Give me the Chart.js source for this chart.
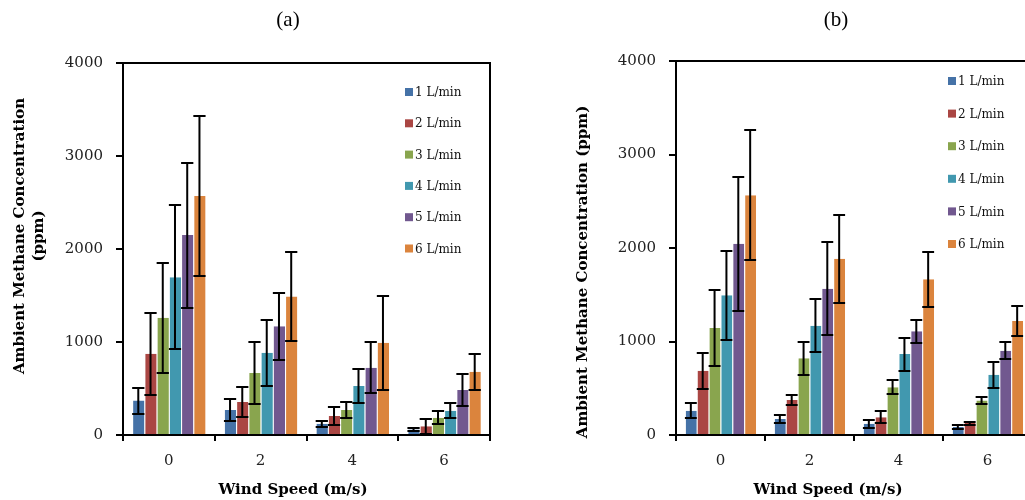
<!DOCTYPE html>
<html>
<head>
<meta charset="utf-8">
<title>Ambient methane concentration vs wind speed</title>
<script src="https://cdn.jsdelivr.net/npm/chart.js@4.4.1/dist/chart.umd.min.js"></script>
<style>
  html, body { margin: 0; padding: 0; background: #fff; width: 1025px; height: 500px; overflow: hidden; position: relative; }
  .panel { position: absolute; top: 0; height: 500px; }
  #wrapA { left: 0; width: 510px; }
  #wrapB { left: 520px; width: 540px; }
  .tag { position: absolute; top: 7px; font-family: "Liberation Serif", serif; font-size: 21px; color: #000; transform: translateX(-50%); z-index: 2; }
</style>
</head>
<body>
<div class="tag" style="left:288px">(a)</div>
<div class="tag" style="left:836px">(b)</div>
<div class="panel" id="wrapA"><canvas id="chartA" width="510" height="500"></canvas></div>
<div class="panel" id="wrapB"><canvas id="chartB" width="540" height="500"></canvas></div>

<script>
// Wind speeds (m/s) on the category axis
const windSpeeds = ['0', '2', '4', '6'];
// Leak flow rates, one series each
const flowRates = ['1 L/min', '2 L/min', '3 L/min', '4 L/min', '5 L/min', '6 L/min'];
const yTicks = [0, 1000, 2000, 3000, 4000];

// Panel (a): mean concentration (ppm) per flow rate, across wind speeds
const meansA = [
  [370, 270, 120, 60],
  [875, 356, 205, 95],
  [1260, 668, 270, 185],
  [1695, 884, 528, 260],
  [2150, 1170, 722, 485],
  [2570, 1488, 992, 680]
];
// Panel (a): error bar half-lengths (ppm)
const errorsA = [
  [140, 115, 35, 18],
  [440, 162, 97, 80],
  [590, 330, 87, 70],
  [775, 355, 183, 80],
  [780, 360, 275, 172],
  [865, 475, 507, 195]
];

// Panel (b): mean concentration (ppm)
const meansB = [
  [260, 170, 120, 85],
  [686, 375, 190, 128],
  [1145, 820, 510, 370],
  [1495, 1168, 865, 645],
  [2045, 1565, 1110, 900],
  [2565, 1886, 1667, 1220]
];
// Panel (b): error bar half-lengths (ppm)
const errorsB = [
  [80, 40, 40, 17],
  [195, 55, 62, 16],
  [410, 180, 75, 35],
  [477, 285, 177, 140],
  [718, 500, 125, 90],
  [695, 470, 293, 165]
];

const seriesColors = ['#4572A7', '#AA4643', '#89A54E', '#4198AF', '#71588F', '#DB843D'];

const SERIF = '"DejaVu Serif", "Liberation Serif", serif';

// Symmetric error bars on top of each bar
const errorBars = {
  id: 'errorBars',
  afterDatasetsDraw(chart) {
    const { ctx } = chart;
    const y = chart.scales.y;
    ctx.save();
    ctx.strokeStyle = '#000';
    ctx.lineWidth = 2;
    chart.data.datasets.forEach((ds, i) => {
      const meta = chart.getDatasetMeta(i);
      meta.data.forEach((bar, j) => {
        const v = ds.data[j];
        const e = ds.errors[j];
        const top = Math.round(y.getPixelForValue(v + e));
        const bot = Math.round(y.getPixelForValue(Math.max(0, v - e)));
        const half = bar.width * 0.5;
        ctx.beginPath();
        ctx.moveTo(bar.x, top); ctx.lineTo(bar.x, bot);
        ctx.moveTo(bar.x - half, top); ctx.lineTo(bar.x + half, top);
        ctx.moveTo(bar.x - half, bot); ctx.lineTo(bar.x + half, bot);
        ctx.stroke();
      });
    });
    ctx.restore();
  }
};

// Box around the plot area
const frame = {
  id: 'frame',
  afterDraw(chart) {
    const { ctx, chartArea: a } = chart;
    ctx.save();
    ctx.strokeStyle = '#000';
    ctx.lineWidth = 2;
    ctx.strokeRect(a.left, a.top, a.right - a.left, a.bottom - a.top);
    ctx.restore();
  }
};

// Legend column inside the plot
const sideLegend = {
  id: 'sideLegend',
  afterDraw(chart, args, opts) {
    const { ctx } = chart;
    ctx.save();
    ctx.font = '12px ' + SERIF;
    ctx.textBaseline = 'middle';
    ctx.textAlign = 'left';
    chart.data.datasets.forEach((ds, i) => {
      const yy = opts.y + i * opts.gap;
      ctx.fillStyle = ds.backgroundColor;
      ctx.fillRect(opts.x, yy - 4, 8, 8);
      ctx.fillStyle = '#111';
      ctx.fillText(ds.label, opts.x + 10, yy + 1);
    });
    ctx.restore();
  }
};

// Axis titles
const axisTitles = {
  id: 'axisTitles',
  afterDraw(chart, args, opts) {
    const { ctx } = chart;
    ctx.save();
    ctx.font = 'bold 15px ' + SERIF;
    ctx.fillStyle = '#000';
    ctx.textAlign = 'center';
    ctx.textBaseline = 'middle';
    ctx.fillText(opts.xText, opts.xX, opts.xY);
    ctx.translate(opts.yX, opts.yY);
    ctx.rotate(-Math.PI / 2);
    opts.yText.forEach((line, k) => ctx.fillText(line, 0, k * opts.yGap));
    ctx.restore();
  }
};

function buildChart(canvasId, means, errors, geom) {
  const datasets = flowRates.map((label, i) => ({
    label,
    data: means[i],
    errors: errors[i],
    backgroundColor: seriesColors[i],
    borderColor: 'rgba(255,255,255,0.6)',
    borderWidth: { left: 1, top: 0, right: 0, bottom: 0 },
    borderSkipped: false,
    categoryPercentage: 0.8,
    barPercentage: 1.0
  }));

  return new Chart(document.getElementById(canvasId), {
    type: 'bar',
    data: { labels: windSpeeds, datasets },
    plugins: [errorBars, frame, sideLegend, axisTitles],
    options: {
      responsive: false,
      animation: false,
      devicePixelRatio: 1,
      layout: { padding: { left: 0, top: geom.top, right: geom.right, bottom: 0 } },
      scales: {
        x: {
          type: 'category',
          afterFit(scale) { scale.height = 500 - geom.bottom; },
          grid: { offset: true, drawOnChartArea: false, drawTicks: true, tickLength: 6, color: '#000', lineWidth: 2 },
          border: { display: true, color: '#000', width: 2 },
          ticks: { color: '#222', padding: 11, font: { family: SERIF, size: 15 } }
        },
        y: {
          min: 0,
          max: 4000,
          afterFit(scale) { scale.width = geom.left; },
          afterBuildTicks(scale) { scale.ticks = yTicks.map(v => ({ value: v })); },
          grid: { drawOnChartArea: false, drawTicks: true, tickLength: 7, color: '#000', lineWidth: 2 },
          border: { display: true, color: '#000', width: 2 },
          ticks: {
            color: '#222',
            padding: 13,
            font: { family: SERIF, size: 15 },
            callback: (value) => String(value)
          }
        }
      },
      plugins: {
        legend: { display: false },
        tooltip: { enabled: false },
        sideLegend: geom.legend,
        axisTitles: geom.titles
      }
    }
  });
}

buildChart('chartA', meansA, errorsA, {
  left: 123, top: 63, right: 20, bottom: 435,
  legend: { x: 405, y: 92, gap: 31.3 },
  titles: {
    xText: 'Wind Speed (m/s)', xX: 293, xY: 490,
    yText: ['Ambient Methane Concentration', '(ppm)'], yX: 20, yY: 236, yGap: 19
  }
});

buildChart('chartB', meansB, errorsB, {
  left: 156, top: 61, right: 28, bottom: 435,
  legend: { x: 428, y: 81, gap: 32.6 },
  titles: {
    xText: 'Wind Speed (m/s)', xX: 308, xY: 490,
    yText: ['Ambient Methane Concentration (ppm)'], yX: 63, yY: 272, yGap: 19
  }
});
</script>
</body>
</html>
